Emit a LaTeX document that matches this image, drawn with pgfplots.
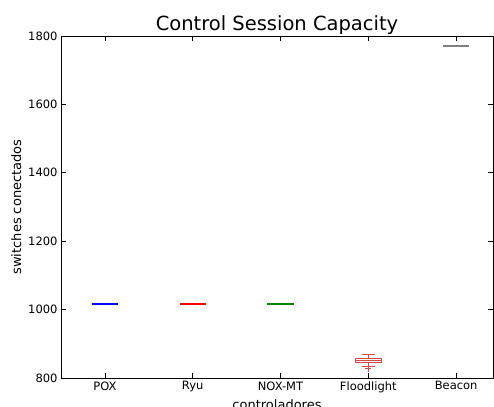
\documentclass[border=0pt]{standalone}
\usepackage{pgfplots}
\pgfplotsset{compat=1.18}
\usepackage{fontspec}
\setmainfont{DejaVu Sans}
\definecolor{mplgreen}{rgb}{0,0.5,0}
\definecolor{fl}{rgb}{0.8,0.3,0.3}
\begin{document}
\begin{tikzpicture}
\begin{axis}[
  scale only axis,
  width=432bp, height=342bp,
  xmin=0.5, xmax=5.42,
  ymin=800, ymax=1800,
  xtick={1,2,3,4,5},
  xticklabels={POX,Ryu,NOX-MT,Floodlight,Beacon},
  ytick={800,1000,1200,1400,1600,1800},
  /pgf/number format/assume math mode=true,
  /pgf/number format/1000 sep={},
  tick align=inside,
  major tick length=5bp,
  minor tick num=0,
  tick style={black, line width=0.6bp},
  axis line style={black, line width=0.8bp},
  ticklabel style={font=\fontsize{11.5bp}{13bp}\selectfont},
  label style={font=\fontsize{13bp}{15bp}\selectfont},
  title style={font=\fontsize{19.5bp}{22bp}\selectfont, yshift=-8bp},
  title={Control Session Capacity},
  xlabel={controladores},
  ylabel={switches conectados},
]
\addplot[blue, line width=1.8bp] coordinates {(0.85,1015.5) (1.15,1015.5)};
\addplot[red, line width=1.8bp] coordinates {(1.85,1017.5) (2.15,1017.5)};
\addplot[mplgreen, line width=1.8bp] coordinates {(2.85,1015.5) (3.15,1015.5)};
% Floodlight box plot
\addplot[fl, line width=0.9bp] coordinates {(3.85,844.7) (4.15,844.7) (4.15,857.6) (3.85,857.6) (3.85,844.7)};
\addplot[fl, line width=0.9bp] coordinates {(3.85,851.6) (4.15,851.6)};
\addplot[fl, line width=0.8bp] coordinates {(4,857.6) (4,868)};
\addplot[fl, line width=0.8bp] coordinates {(4,844.7) (4,835)};
\addplot[fl, line width=0.8bp] coordinates {(3.925,868) (4.075,868)};
\addplot[fl, line width=0.8bp] coordinates {(3.925,835) (4.075,835)};
\addplot[only marks, mark=+, mark size=3bp, mark options={fl, line width=0.8bp}] coordinates {(4,827)};
\addplot[gray, line width=1.8bp] coordinates {(4.85,1771) (5.15,1771)};
\end{axis}
\pgfresetboundingbox
\path[use as bounding box] ([xshift=-61bp,yshift=-29bp]current axis.south west) rectangle ([xshift=1bp,yshift=36bp]current axis.north east);
\end{tikzpicture}
\end{document}
